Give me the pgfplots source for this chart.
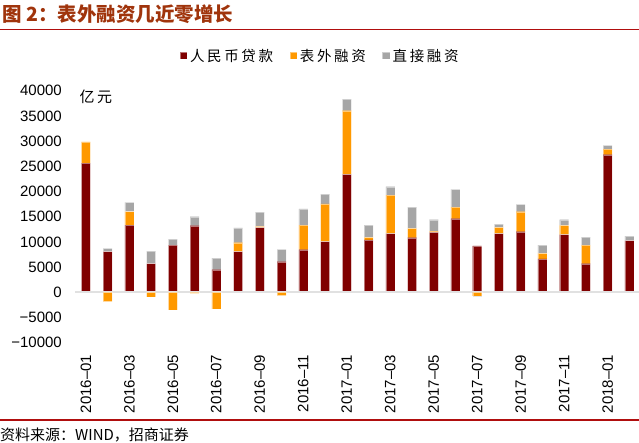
\documentclass[border=0pt]{standalone}
\usepackage{fontspec}
\setmainfont{Liberation Sans}
\newfontfamily\cjk{Noto Sans CJK SC}
\newfontfamily\cjkls[LetterSpace=18]{Noto Sans CJK SC}
\usepackage{pgfplots}
\usepackage{pgfplotstable}
\pgfplotsset{compat=1.18}
\definecolor{cred}{RGB}{128,0,0}
\definecolor{corange}{RGB}{255,153,0}
\definecolor{cgray}{RGB}{166,166,166}
\definecolor{ctitle}{RGB}{160,52,12}
\definecolor{cline}{RGB}{176,14,14}
\definecolor{czero}{RGB}{225,225,225}

\pgfplotstableread{
m r o g
0 25650 4200 0
1 8060 -1860 670
2 13350 2650 1850
3 5680 -930 2510
4 9380 -3510 1190
5 13210 -200 1790
6 4480 -3310 2320
7 8060 1780 2920
8 12820 270 2840
9 6070 -670 2460
10 8450 4900 3180
11 10040 7480 1980
12 23410 12620 2320
13 10380 530 2440
14 11630 7670 1650
15 10830 1870 4220
16 11900 260 2240
17 14600 2320 3520
18 9190 -730 -260
19 11630 1270 650
20 12020 3970 1470
21 6610 1130 1640
22 11430 1860 1110
23 5670 3710 1590
24 27300 1130 730
25 10240 0 930
}\data

\pgfplotsset{
  common/.style={
    at={(75pt,99.3pt)}, anchor=south west,
    scale only axis, width=564pt, height=252pt,
    xmin=-0.5, xmax=25.44, ymin=-10000, ymax=40000,
    ybar stacked, bar width=9pt,
    axis line style={draw=none}, major tick length=0pt,
    scaled y ticks=false, scaled x ticks=false,
    clip=false,
  },
}

\begin{document}
\begin{tikzpicture}
\useasboundingbox (0pt,0pt) rectangle (639pt,442pt);
% title and frame lines
\node[anchor=west, inner sep=0pt, text=ctitle, font=\cjk\bfseries\fontsize{19.5}{20}\selectfont] at (2pt,428pt) {图 2：表外融资几近零增长};
\draw[cline, line width=1.4pt] (0pt,412.5pt) -- (639pt,412.5pt);
\draw[cline, line width=1.2pt] (0pt,22pt) -- (639pt,22pt);
\node[anchor=west, inner sep=0pt, font=\cjk\fontsize{15}{16}\selectfont] at (0pt,7pt) {资料来源：WIND，招商证券};

\begin{axis}[common,
  ytick={-10000,-5000,0,5000,10000,15000,20000,25000,30000,35000,40000},
  yticklabels={−10000,−5000,0,5000,10000,15000,20000,25000,30000,35000,40000},
  yticklabel style={font=\fontsize{15}{15}\selectfont, inner sep=0pt},
  yticklabel shift=13pt,
  xtick={0,2,...,24},
  xticklabels={2016–01,2016–03,2016–05,2016–07,2016–09,2016–11,2017–01,2017–03,2017–05,2017–07,2017–09,2017–11,2018–01},
  xticklabel style={font=\fontsize{15}{15}\selectfont, rotate=90, anchor=east, inner sep=0pt},
  xticklabel shift=12pt,
  legend columns=3,
  legend style={draw=none, fill=none, at={(axis description cs:0.18,1.1377)}, anchor=west,
    font=\cjkls\fontsize{14.5}{15}\selectfont,
    nodes={inner xsep=2.5pt, inner ysep=1pt},
    /tikz/every even column/.append style={column sep=14pt}},
  legend image code/.code={\fill[#1] (0pt,-3.5pt) rectangle (7.5pt,4pt);},
]
\draw[czero, line width=2pt] (axis cs:-0.5,0) -- (axis cs:25.44,0);
\addplot[fill=cred, draw=white, draw opacity=0.45, line width=0.4pt] table[x=m, y=r] {\data};
\addplot[fill=corange, draw=white, draw opacity=0.45, line width=0.4pt] table[x=m, y expr={max(\thisrow{o},0)}] {\data};
\addplot[fill=cgray, draw=white, draw opacity=0.45, line width=0.4pt] table[x=m, y expr={max(\thisrow{g},0)}] {\data};
\legend{人民币贷款,表外融资,直接融资}
\node[anchor=west, inner sep=0pt, font=\cjkls\fontsize{15}{15}\selectfont] at (axis cs:-0.3,38800) {亿元};
\end{axis}

\begin{axis}[common, xtick=\empty, ytick=\empty]
\addplot[fill=corange, draw=white, draw opacity=0.45, line width=0.4pt] table[x=m, y expr={min(\thisrow{o},0)}] {\data};
\addplot[fill=cgray, draw=white, draw opacity=0.45, line width=0.4pt] table[x=m, y expr={min(\thisrow{g},0)}] {\data};
\end{axis}
\end{tikzpicture}
\end{document}
